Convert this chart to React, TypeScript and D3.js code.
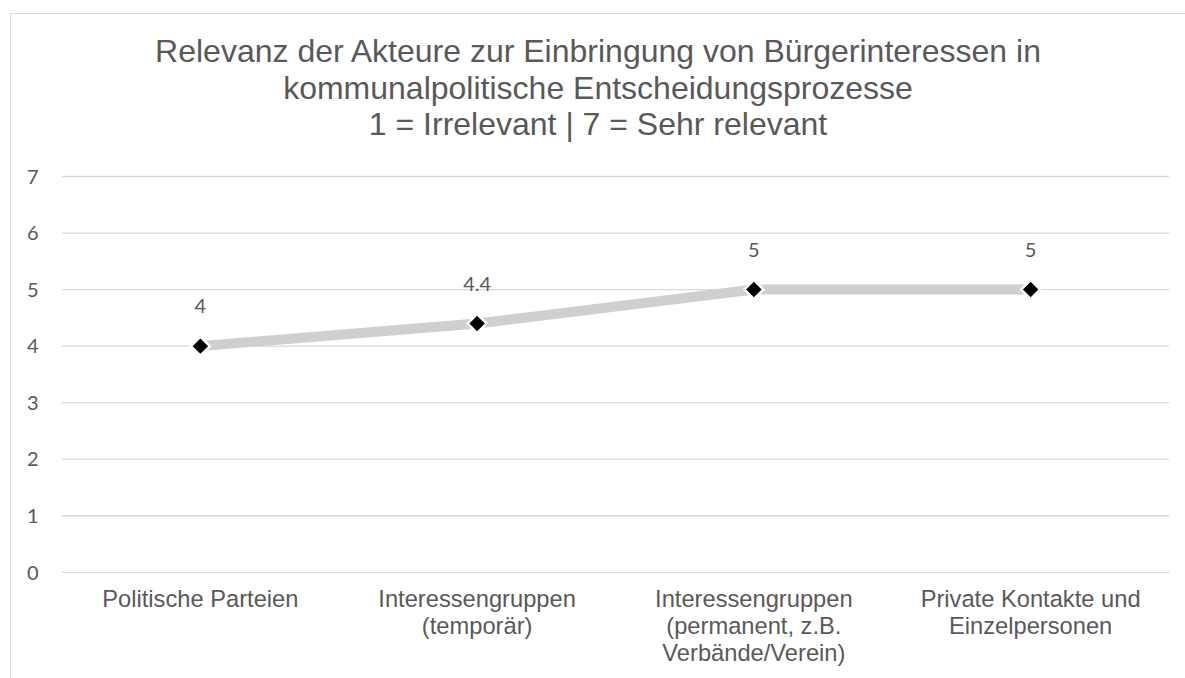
import React from "react";
import * as d3 from "d3";

const titleLines = [
  "Relevanz der Akteure zur Einbringung von Bürgerinteressen in",
  "kommunalpolitische Entscheidungsprozesse",
  "1 = Irrelevant | 7 = Sehr relevant",
];
const categories = [
  "Politische Parteien",
  "Interessengruppen (temporär)",
  "Interessengruppen (permanent, z.B. Verbände/Verein)",
  "Private Kontakte und Einzelpersonen",
];
const categoryLines = [
  ["Politische Parteien"],
  ["Interessengruppen", "(temporär)"],
  ["Interessengruppen", "(permanent, z.B.", "Verbände/Verein)"],
  ["Private Kontakte und", "Einzelpersonen"],
];
const values = [4, 4.4, 5, 5];
const valueLabels = ["4", "4.4", "5", "5"];
const yTicks = [0, 1, 2, 3, 4, 5, 6, 7];

const W = 1185;
const H = 678;
const plotLeft = 62;
const plotRight = 1169;
const plotTop = 176.5;
const plotBottom = 572.3;
const textColor = "#595959";
const sansArial = "'Liberation Sans', Arial, sans-serif";
const sansNum = "Lato, 'Open Sans', sans-serif";

export default function App() {
  const x = d3.scaleBand<string>().domain(categories).range([plotLeft, plotRight]).padding(0);
  const y = d3.scaleLinear().domain([0, 7]).range([plotBottom, plotTop]);
  const cx = (c: string) => (x(c) as number) + x.bandwidth() / 2;
  const pts = categories.map((c, i) => [cx(c), y(values[i])] as [number, number]);
  const line = d3.line()(pts) as string;
  const diamond = d3.symbol().type(d3.symbolSquare).size(180)() as string;

  return (
    <svg
      width={W}
      height={H}
      style={{ position: "absolute", left: 0, top: 0, background: "#fff" }}
    >
      <rect x={0} y={0} width={W} height={H} fill="#fff" />
      <rect x={10.5} y={13.5} width={1190} height={720} fill="#fff" stroke="#d9d9d9" strokeWidth={1} />
      {titleLines.map((t, i) => (
        <text
          key={i}
          x={598}
          y={62 + i * 36.5}
          textAnchor="middle"
          fill={textColor}
          fontFamily={sansArial}
          fontSize={32}
        >
          {t}
        </text>
      ))}
      {yTicks.map((t) => (
        <g key={t}>
          <line x1={plotLeft} x2={plotRight} y1={y(t)} y2={y(t)} stroke="#d9d9d9" strokeWidth={1.3} />
          <text
            x={38.5}
            y={y(t) + 7.2}
            textAnchor="end"
            fill={textColor}
            fontFamily={sansNum}
            fontSize={20}
          >
            {t}
          </text>
        </g>
      ))}
      <path d={line} fill="none" stroke="#d0cece" strokeWidth={10} />
      {pts.map((p, i) => (
        <path
          key={i}
          d={diamond}
          transform={`translate(${p[0]},${p[1]}) rotate(45)`}
          fill="#000"
          stroke="#fff"
          strokeWidth={2.5}
        />
      ))}
      {pts.map((p, i) => (
        <text
          key={i}
          x={p[0]}
          y={p[1] - 33}
          textAnchor="middle"
          fill={textColor}
          fontFamily={sansNum}
          fontSize={20}
        >
          {valueLabels[i]}
        </text>
      ))}
      {categories.map((c, i) => (
        <text
          key={c}
          x={cx(c)}
          textAnchor="middle"
          fill={textColor}
          fontFamily={sansArial}
          fontSize={23.7}
        >
          {categoryLines[i].map((l, j) => (
            <tspan key={j} x={cx(c)} y={607 + j * 27}>
              {l}
            </tspan>
          ))}
        </text>
      ))}
    </svg>
  );
}
